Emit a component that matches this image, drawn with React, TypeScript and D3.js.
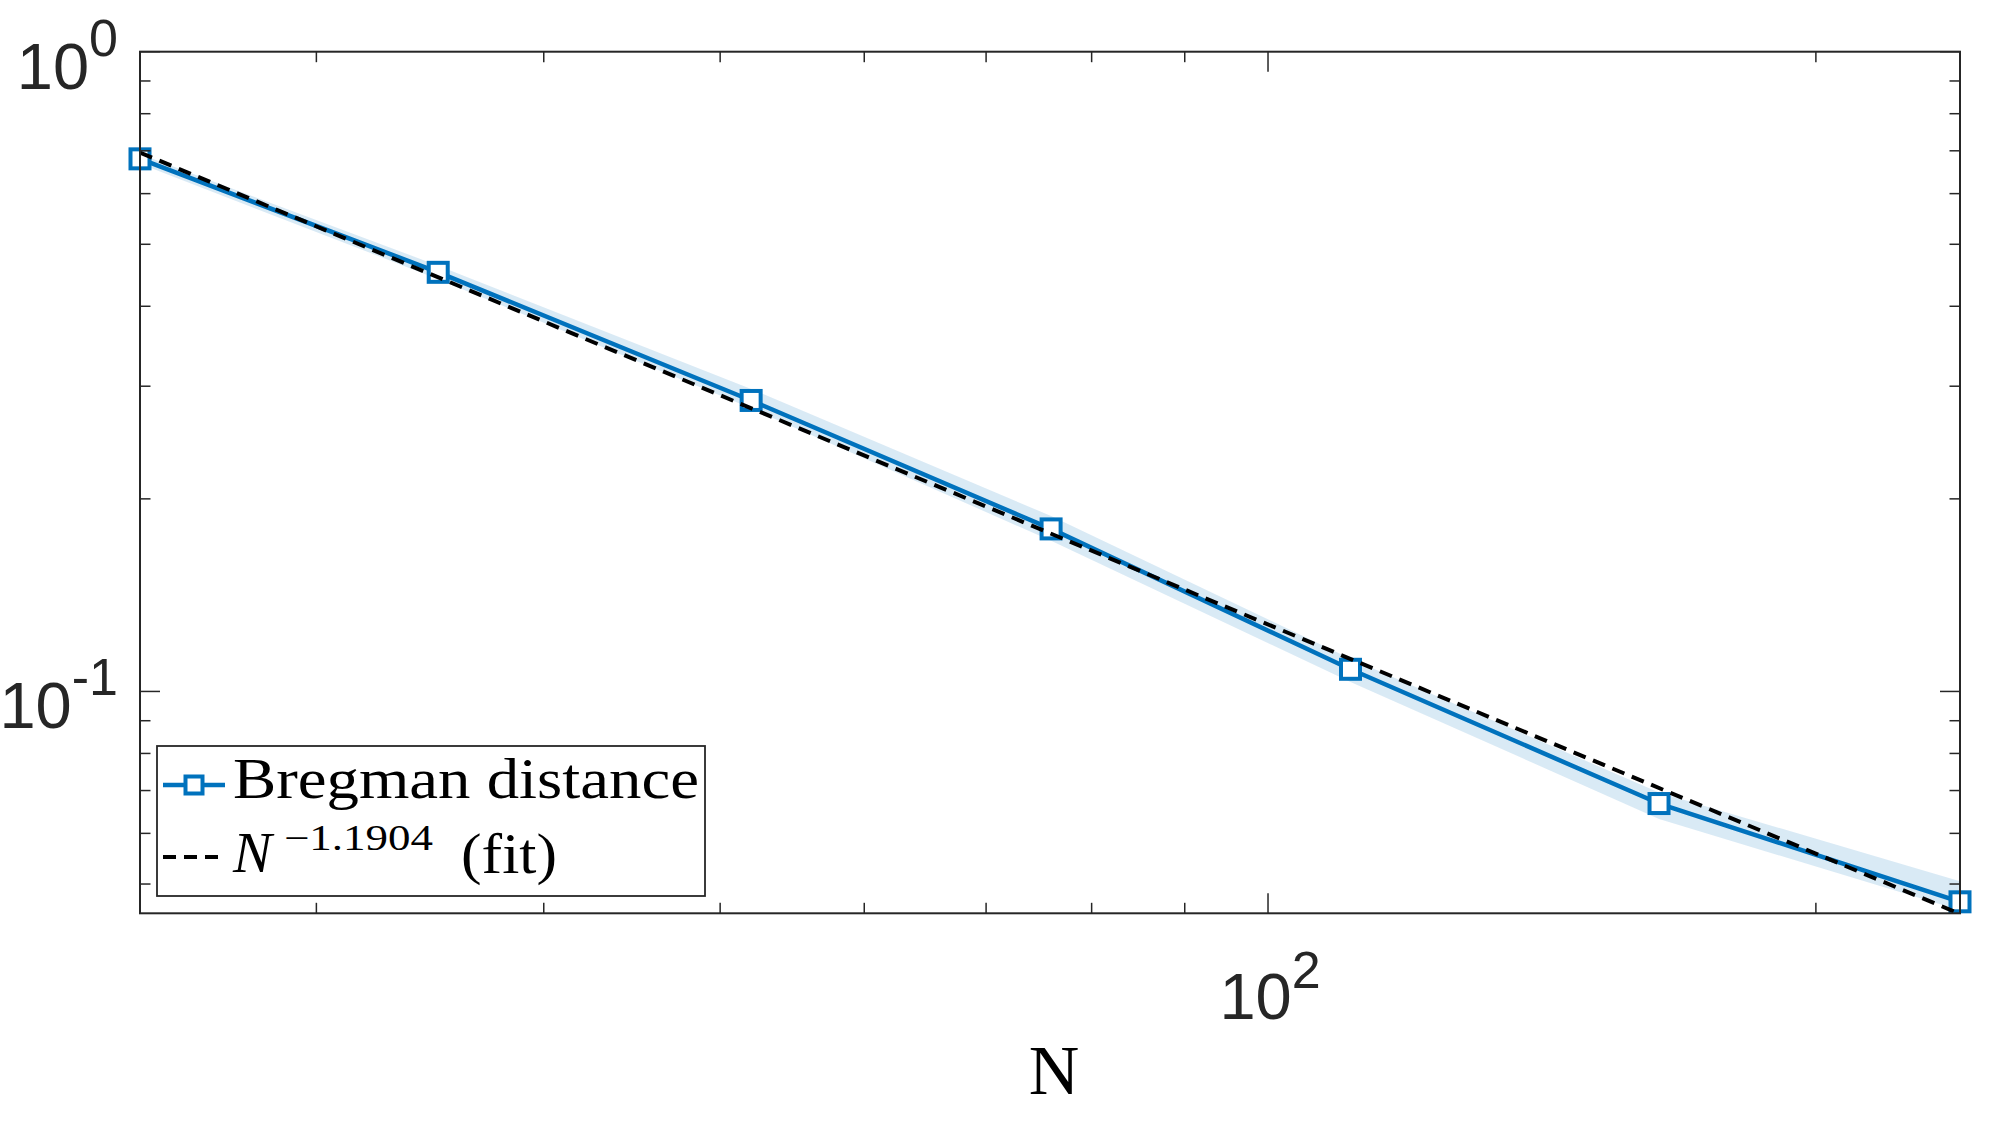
import * as d3 from 'd3';

// Bregman distance vs N (log-log), with light confidence band and power-law fit
const nValues = [24, 35, 52, 76, 111, 164, 240];
const bregman = [0.68, 0.452, 0.285, 0.1795, 0.1083, 0.0668, 0.0469];
const bandUpper = [0.692, 0.463, 0.297, 0.188, 0.1125, 0.0695, 0.0505];
const bandLower = [0.668, 0.441, 0.277, 0.172, 0.1035, 0.0632, 0.0455];

const fitN = [24, 240];
const fitValues = [0.6955, 0.0449];

const xMajorTicks = [100];
const xMajorLabels = [['10', '2']];
const xMinorTicks = [30, 40, 50, 60, 70, 80, 90, 200];
const yMajorTicks = [1, 0.1];
const yMajorLabels = [['10', '0'], ['10', '-1']];
const yMinorTicks = [0.05, 0.06, 0.07, 0.08, 0.09, 0.2, 0.3, 0.4, 0.5, 0.6, 0.7, 0.8, 0.9];

const W = 2000;
const H = 1125;
const LEFT = 140;
const RIGHT = 1960;
const TOP = 51.7;
const BOTTOM = 913.3;

const BLUE = '#0072BD';
const AXIS = '#262626';
const SANS = '"Liberation Sans", Arial, Helvetica, sans-serif';
const SERIF = '"Liberation Serif", "Times New Roman", serif';

export default function App() {
  const x = d3.scaleLog().domain([24, 240]).range([LEFT, RIGHT]);
  const y = d3.scaleLog().domain([0.045, 1]).range([BOTTOM, TOP]);

  const pts = nValues.map((n, i) => ({ n, v: bregman[i], lo: bandLower[i], hi: bandUpper[i] }));

  const line = d3
    .line<{ n: number; v: number }>()
    .x((d) => x(d.n))
    .y((d) => y(d.v));

  const band = d3
    .area<{ n: number; lo: number; hi: number }>()
    .x((d) => x(d.n))
    .y0((d) => y(d.lo))
    .y1((d) => y(d.hi));

  const fitPts = fitN.map((n, i) => ({ n, v: fitValues[i] }));

  const MAJ = 20;
  const MIN = 10.5;
  const mk = 19;

  return (
    <svg
      width={W}
      height={H}
      style={{ position: 'absolute', left: 0, top: 0, display: 'block', background: '#fff' }}
    >
      <defs>
        <clipPath id="plotClip">
          <rect x={LEFT} y={TOP} width={RIGHT - LEFT} height={BOTTOM - TOP} />
        </clipPath>
      </defs>

      {/* data */}
      <g clipPath="url(#plotClip)">
        <path d={band(pts) || ''} fill={BLUE} fillOpacity={0.15} stroke="none" />
        <path d={line(pts) || ''} fill="none" stroke={BLUE} strokeWidth={4.5} strokeLinejoin="round" />
      </g>
      {pts.map((d, i) => (
        <rect
          key={i}
          x={x(d.n) - mk / 2}
          y={y(d.v) - mk / 2}
          width={mk}
          height={mk}
          fill="#fff"
          stroke={BLUE}
          strokeWidth={4}
        />
      ))}
      <g clipPath="url(#plotClip)">
        <path
          d={line(fitPts) || ''}
          fill="none"
          stroke="#000"
          strokeWidth={4}
          strokeDasharray="13 8"
        />
      </g>

      {/* axes box */}
      <rect x={LEFT} y={TOP} width={RIGHT - LEFT} height={BOTTOM - TOP} fill="none" stroke={AXIS} strokeWidth={2} />

      {/* x ticks, bottom and top */}
      {xMinorTicks.map((t) => (
        <g key={'xm' + t} stroke={AXIS} strokeWidth={1.5}>
          <line x1={x(t)} x2={x(t)} y1={BOTTOM} y2={BOTTOM - MIN} />
          <line x1={x(t)} x2={x(t)} y1={TOP} y2={TOP + MIN} />
        </g>
      ))}
      {xMajorTicks.map((t, i) => (
        <g key={'xM' + t}>
          <line x1={x(t)} x2={x(t)} y1={BOTTOM} y2={BOTTOM - MAJ} stroke={AXIS} strokeWidth={1.5} />
          <line x1={x(t)} x2={x(t)} y1={TOP} y2={TOP + MAJ} stroke={AXIS} strokeWidth={1.5} />
          <text x={x(t) + 2} y={1019} textAnchor="middle" fill={AXIS} fontFamily={SANS} fontSize={65}>
            {xMajorLabels[i][0]}
            <tspan fontSize={52} dy={-31}>
              {xMajorLabels[i][1]}
            </tspan>
          </text>
        </g>
      ))}

      {/* y ticks, left and right */}
      {yMinorTicks.map((t) => (
        <g key={'ym' + t} stroke={AXIS} strokeWidth={1.5}>
          <line x1={LEFT} x2={LEFT + MIN} y1={y(t)} y2={y(t)} />
          <line x1={RIGHT} x2={RIGHT - MIN} y1={y(t)} y2={y(t)} />
        </g>
      ))}
      {yMajorTicks.map((t, i) => (
        <g key={'yM' + t}>
          <line x1={LEFT} x2={LEFT + MAJ} y1={y(t)} y2={y(t)} stroke={AXIS} strokeWidth={1.5} />
          <line x1={RIGHT} x2={RIGHT - MAJ} y1={y(t)} y2={y(t)} stroke={AXIS} strokeWidth={1.5} />
          <text x={LEFT - 22} y={y(t) + 37} textAnchor="end" fill={AXIS} fontFamily={SANS} fontSize={65}>
            {yMajorLabels[i][0]}
            <tspan fontSize={52} dy={-33}>
              {yMajorLabels[i][1]}
            </tspan>
          </text>
        </g>
      ))}

      {/* x axis label */}
      <text x={(LEFT + RIGHT) / 2 + 4} y={1094} textAnchor="middle" fill="#000" fontFamily={SERIF} fontSize={70}>
        N
      </text>

      {/* legend */}
      <g>
        <rect x={157} y={746} width={548} height={150} fill="#fff" stroke={AXIS} strokeWidth={1.8} />
        <line x1={163} x2={225} y1={785} y2={785} stroke={BLUE} strokeWidth={4.5} />
        <rect x={194 - 8.5} y={785 - 8.5} width={17} height={17} fill="#fff" stroke={BLUE} strokeWidth={4} />
        <text
          x={233}
          y={798}
          fill="#000"
          fontFamily={SERIF}
          fontSize={56}
          textLength={466}
          lengthAdjust="spacingAndGlyphs"
        >
          Bregman distance
        </text>
        <line x1={163} x2={225} y1={857} y2={857} stroke="#000" strokeWidth={4} strokeDasharray="13 8" />
        <text x={233} y={872} fill="#000" fontFamily={SERIF} fontSize={58} fontStyle="italic">
          N
        </text>
        <text
          x={284}
          y={850}
          fill="#000"
          fontFamily={SERIF}
          fontSize={36}
          textLength={149}
          lengthAdjust="spacingAndGlyphs"
        >
          −1.1904
        </text>
        <text
          x={461}
          y={873}
          fill="#000"
          fontFamily={SERIF}
          fontSize={58}
          textLength={96}
          lengthAdjust="spacingAndGlyphs"
        >
          (fit)
        </text>
      </g>
    </svg>
  );
}
